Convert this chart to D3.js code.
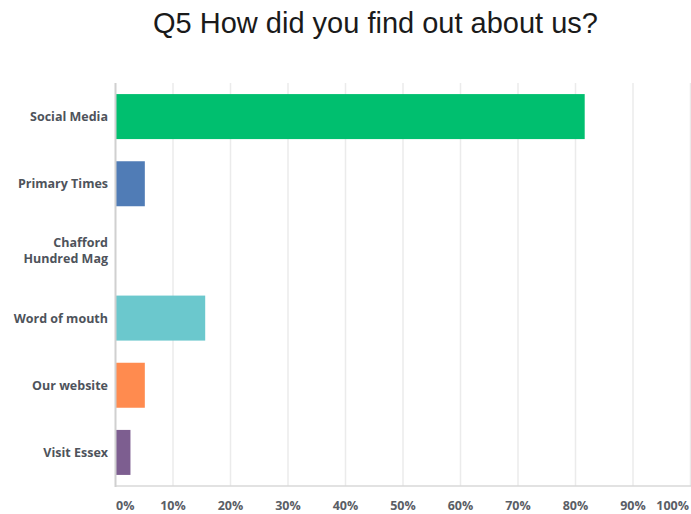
<!DOCTYPE html>
<html>
<head>
<meta charset="utf-8">
<script src="https://cdn.jsdelivr.net/npm/d3@7/dist/d3.min.js"></script>
<style>
  body { margin: 0; background: #fff; }
  svg { display: block; }
</style>
</head>
<body>
<svg id="chart" width="691" height="514"></svg>
<script>
const title = "Q5 How did you find out about us?";
const categories = ["Social Media", "Primary Times", "Chafford Hundred Mag", "Word of mouth", "Our website", "Visit Essex"];
const labelLines = [["Social Media"], ["Primary Times"], ["Chafford", "Hundred Mag"], ["Word of mouth"], ["Our website"], ["Visit Essex"]];
const values = [81.6, 5.1, 0, 15.6, 5.1, 2.6];
const colors = ["#00BF6F", "#507CB6", "#F9BE00", "#6BC8CD", "#FF8B4F", "#7D5E90"];
const ticks = [0, 10, 20, 30, 40, 50, 60, 70, 80, 90, 100];
const tickLabels = ticks.map(t => t + "%");

const svg = d3.select("#chart");
const m = { left: 115.5, right: 0, top: 83, bottom: 28 };
const W = 691, H = 514;
const x = d3.scaleLinear().domain([0, 100]).range([m.left, W - 0.5]);
const y = d3.scaleBand().domain(categories).range([m.top, 486]).paddingInner(0.33).paddingOuter(0.165);

svg.append("text")
  .attr("x", 375.5).attr("y", 33)
  .attr("text-anchor", "middle")
  .attr("font-family", "Liberation Sans, Arial, sans-serif")
  .attr("font-size", 29)
  .attr("fill", "#1a1a1a")
  .text(title);

// gridlines
svg.append("g").selectAll("line").data(ticks.slice(1)).join("line")
  .attr("x1", d => x(d)).attr("x2", d => x(d))
  .attr("y1", m.top).attr("y2", 486)
  .attr("stroke", "#ebebeb").attr("stroke-width", 1.5);

// bars
svg.append("g").selectAll("rect").data(categories).join("rect")
  .attr("x", x(0))
  .attr("y", d => y(d))
  .attr("width", (d, i) => x(values[i]) - x(0))
  .attr("height", y.bandwidth())
  .attr("fill", (d, i) => colors[i]);

// axes lines
svg.append("line").attr("x1", m.left).attr("x2", W).attr("y1", 486).attr("y2", 486)
  .attr("stroke", "#d9d9d9").attr("stroke-width", 1.5);
svg.append("line").attr("x1", m.left).attr("x2", m.left).attr("y1", m.top).attr("y2", 487)
  .attr("stroke", "#d0d0d0").attr("stroke-width", 2);

// x tick labels
svg.append("g").selectAll("text").data(ticks).join("text")
  .attr("x", (d, i) => i === 0 ? x(d) + 0.5 : (i === ticks.length - 1 ? W - 2 : x(d)))
  .attr("y", 510)
  .attr("text-anchor", (d, i) => i === 0 ? "start" : (i === ticks.length - 1 ? "end" : "middle"))
  .attr("font-family", "Open Sans, sans-serif")
  .attr("font-weight", 700)
  .attr("font-size", 12.5)
  .attr("fill", "#5a5e66")
  .text((d, i) => tickLabels[i]);

// y labels
const yl = svg.append("g");
categories.forEach((c, i) => {
  const lines = labelLines[i];
  const cy = y(c) + y.bandwidth() / 2;
  const lh = 16;
  const t = yl.append("text")
    .attr("text-anchor", "end")
    .attr("font-family", "Open Sans, sans-serif")
    .attr("font-weight", 700)
    .attr("font-size", 12.5)
    .attr("fill", "#4e535b");
  lines.forEach((ln, j) => {
    t.append("tspan")
      .attr("x", 108)
      .attr("y", cy + 4.5 + (j - (lines.length - 1) / 2) * lh)
      .text(ln);
  });
});
</script>
</body>
</html>
